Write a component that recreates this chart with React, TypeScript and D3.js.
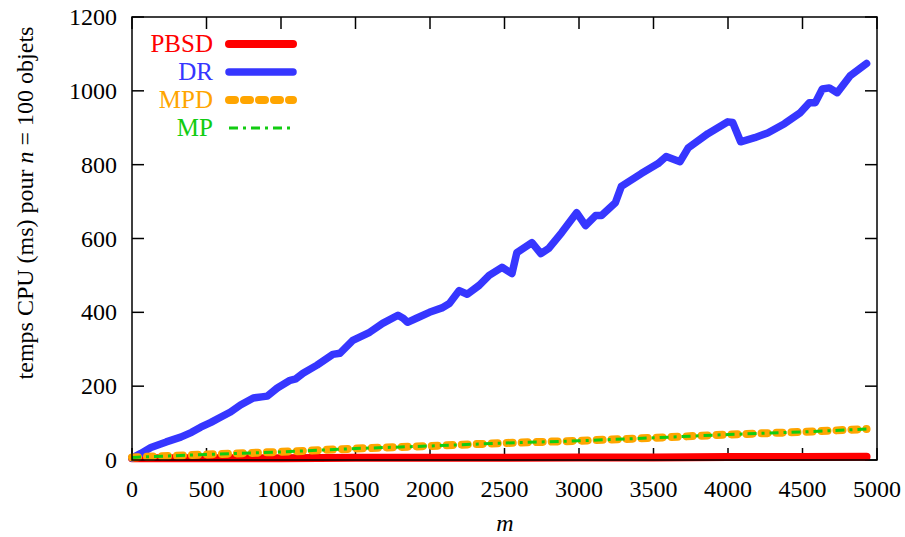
import React from "react";
import * as d3 from "d3";

const W = 905;
const H = 537;

const xTicks = [0, 500, 1000, 1500, 2000, 2500, 3000, 3500, 4000, 4500, 5000];
const yTicks = [0, 200, 400, 600, 800, 1000, 1200];

const drM = [0, 60, 127, 230, 327, 400, 461, 530, 594, 661, 728, 814, 870, 908, 975, 1061, 1100, 1148, 1242, 1348, 1395, 1482, 1595, 1682, 1785, 1820, 1849, 1909, 1996, 2080, 2130, 2196, 2250, 2330, 2397, 2483, 2550, 2583, 2684, 2744, 2797, 2884, 2984, 3044, 3111, 3151, 3244, 3284, 3418, 3531, 3585, 3678, 3732, 3865, 3999, 4032, 4085, 4179, 4266, 4379, 4486, 4546, 4586, 4633, 4680, 4733, 4820, 4930];
const drV = [5, 18, 34, 49, 62, 75, 89, 102, 116, 130, 149, 168, 171, 173, 195, 216, 220, 235, 257, 286, 289, 324, 346, 370, 392, 384, 373, 384, 400, 412, 424, 459, 449, 473, 500, 522, 505, 562, 589, 559, 573, 616, 670, 635, 662, 662, 697, 741, 776, 803, 822, 808, 845, 884, 916, 914, 862, 873, 886, 911, 941, 968, 968, 1005, 1008, 995, 1041, 1074];

const gridM = [0, 500, 1000, 1500, 2000, 2500, 3000, 3500, 4000, 4500, 4930];
const pbsdV = [5, 5, 5, 6, 6, 6, 7, 7, 8, 8, 9];
const mpdV = [7, 15, 22, 31, 38, 46, 52, 60, 69, 76, 84];
const mpV = [7, 15, 22, 31, 38, 46, 52, 60, 69, 76, 84];

const legendNames = ["PBSD", "DR", "MPD", "MP"];

const RED = "#ff0000";
const BLUE = "#3636ff";
const ORANGE = "#ffa500";
const GREEN = "#11cc11";

export default function App() {
  const left = 132, right = 877, top = 17, bottom = 460;
  const x = d3.scaleLinear().domain([0, 5000]).range([left, right]);
  const y = d3.scaleLinear().domain([0, 1200]).range([bottom, top]);
  const line = d3.line<[number, number]>().x(d => x(d[0])).y(d => y(d[1]));

  const dr = line(drM.map((m, i) => [m, drV[i]] as [number, number]));
  const pbsd = line(gridM.map((m, i) => [m, pbsdV[i]] as [number, number]));
  const mpd = line(gridM.map((m, i) => [m, mpdV[i]] as [number, number]));
  const mp = line(gridM.map((m, i) => [m, mpV[i]] as [number, number]));

  const font = "'Liberation Serif', 'DejaVu Serif', serif";
  const tl = 12;

  const styles = [
    { color: RED, w: 8, dash: undefined as string | undefined, cap: "round" },
    { color: BLUE, w: 7.5, dash: undefined as string | undefined, cap: "round" },
    { color: ORANGE, w: 8, dash: "6,9", cap: "round" },
    { color: GREEN, w: 3, dash: "9,5,3,5", cap: "butt" },
  ];
  const paths = [pbsd, dr, mpd, mp];

  return (
    <svg width={W} height={H} style={{ position: "absolute", left: 0, top: 0, background: "#fff" }} fontFamily={font}>
      <rect x={0} y={0} width={W} height={H} fill="#fff" />
      {xTicks.map(t => (
        <g key={"xt" + t}>
          <line x1={x(t)} x2={x(t)} y1={bottom} y2={bottom - tl} stroke="#000" strokeWidth={1.5} />
          <line x1={x(t)} x2={x(t)} y1={top} y2={top + tl} stroke="#000" strokeWidth={1.5} />
          <text x={x(t)} y={497} textAnchor="middle" fontSize={24} fill="#000">{t}</text>
        </g>
      ))}
      {yTicks.map(t => (
        <g key={"yt" + t}>
          <line x1={left} x2={left + tl} y1={y(t)} y2={y(t)} stroke="#000" strokeWidth={1.5} />
          <line x1={right} x2={right - tl} y1={y(t)} y2={y(t)} stroke="#000" strokeWidth={1.5} />
          <text x={117} y={y(t) + 8} textAnchor="end" fontSize={24} fill="#000">{t}</text>
        </g>
      ))}
      {paths.map((p, i) => (
        <path key={"p" + i} d={p || ""} fill="none" stroke={styles[i].color} strokeWidth={styles[i].w}
          strokeDasharray={styles[i].dash} strokeLinecap={styles[i].cap as any} strokeLinejoin="round" />
      ))}
      <rect x={left} y={top} width={right - left} height={bottom - top} fill="none" stroke="#000" strokeWidth={1.5} />
      {legendNames.map((n, i) => {
        const ly = 44 + i * 28;
        return (
          <g key={"lg" + n}>
            <text x={213} y={ly + 8} textAnchor="end" fontSize={25} fill={styles[i].color}>{n}</text>
            <line x1={229} x2={293} y1={ly} y2={ly} stroke={styles[i].color} strokeWidth={styles[i].w}
              strokeDasharray={styles[i].dash} strokeLinecap={styles[i].cap as any} />
          </g>
        );
      })}
      <text x={505} y={531} textAnchor="middle" fontSize={24} fontStyle="italic">m</text>
      <text transform="translate(33,203) rotate(-90)" textAnchor="middle" fontSize={24}>
        temps CPU (ms) pour <tspan fontStyle="italic">n</tspan> = 100 objets
      </text>
    </svg>
  );
}
